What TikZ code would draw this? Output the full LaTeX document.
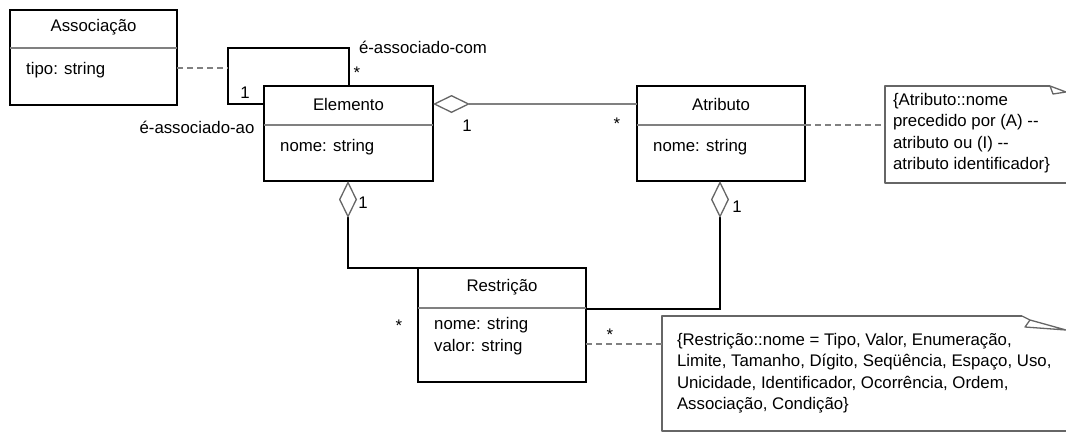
\documentclass[tikz,border=0pt]{standalone}
\usepackage{fontspec}
\setmainfont{Liberation Sans}
\usetikzlibrary{arrows.meta}

\definecolor{linegray}{gray}{0.5}
\definecolor{notegray}{gray}{0.4}

\begin{document}
\begin{tikzpicture}[x=1pt,y=-1pt,font=\fontsize{16.8}{21.5}\selectfont]
\useasboundingbox (0,0) rectangle (1066,432);

% class boxes
\begin{scope}[every node/.style={draw,line width=1.3pt,anchor=north west,
                                 inner sep=0pt,outer sep=0pt}]
    \node[minimum width=167pt,minimum height=95pt] (Assoc) at (10,10) {};
    \node[minimum width=169pt,minimum height=95pt] (Elem) at (264,86) {};
    \node[minimum width=168pt,minimum height=95pt] (Attr) at (637,86) {};
    \node[minimum width=168pt,minimum height=114pt] (Restr) at (418,268) {};
\end{scope}

% compartments
\begin{scope}[line width=1.8pt,linegray]
    \draw (Assoc.west |- 0,48) -- (Assoc.east |- 0,48);
    \draw (Elem.west |- 0,125) -- (Elem.east |- 0,125);
    \draw (Attr.west |- 0,125) -- (Attr.east |- 0,125);
    \draw (Restr.west |- 0,308) -- (Restr.east |- 0,308);
\end{scope}

% names and attributes
\node (AssocName) at (Assoc.north |- 0,27) {Associação};
\node (ElemName) at (Elem.north |- 0,104) {Elemento};
\node (AttrName) at (Attr.north |- 0,104) {Atributo};
\node (RestrName) at (Restr.north |- 0,287) {Restrição};
\begin{scope}[every node/.style={anchor=west,inner sep=0pt}]
    \node (AssocTipo) at (26,70) {tipo: string};
    \node (ElemNome) at (280,147) {nome: string};
    \node (AttrNome) at (653,147) {nome: string};
    \node[align=left] (RestrAttr) at (434,336) {nome: string\\valor: string};
\end{scope}

% notes
\begin{scope}[every node/.style={anchor=north west,inner sep=0pt,outer sep=0pt,
                                 align=left}]
    \node[minimum width=181pt,minimum height=97pt] (NoteAttr) at (885,86) {};
    \node[minimum width=404pt,minimum height=115pt] (NoteRestr) at (662,316) {};
    \node (NoteAttrText) at (893,93) {\{Atributo::nome\\precedido por (A) -{}-\\
        atributo ou (I) -{}-\\atributo identificador\}};
    \node (NoteRestrText) at (677,333) {\{Restrição::nome = Tipo, Valor, Enumeração,\\
        Limite, Tamanho, Dígito, Seqüência, Espaço, Uso,\\
        Unicidade, Identificador, Ocorrência, Ordem,\\Associação, Condição\}};
\end{scope}
\begin{scope}[line width=1.3pt,notegray,line join=round]
    \draw (1050,86) -- (NoteAttr.north west) -- (NoteAttr.south west)
          -- (NoteAttr.south east);
    \draw (1050,86) -- (1053,94) -- (1066,92) -- cycle;
    \draw (1022,316) -- (NoteRestr.north west) -- (NoteRestr.south west)
          -- (NoteRestr.south east);
    \draw (1022,316) -- (1030,320) -- (1025,327) -- (1066,330) -- (1030,320);
\end{scope}

% associations
\coordinate (loopA) at (228,48);
\coordinate (loopB) at (349,48);
\begin{scope}[line width=1.3pt,
              agg/.style={{Diamond[open,length=37pt,width=18pt,line width=1.3pt,
                          color=notegray]}-}]
    \draw (Elem.west |- 0,104) -| (loopA) -- (loopB) -- (loopB |- Elem.north);
    \draw[agg,linegray] (Elem.east |- 0,104) -- (Attr.west |- 0,104);
    \draw[agg] (Elem.south -| 348,0) |- (Restr.north west);
    \draw[agg] (Attr.south -| 720,0) |- (Restr.east |- 0,309);
\end{scope}

% note links
\begin{scope}[line width=1.8pt,linegray,dash pattern=on 6pt off 4pt]
    \draw (Assoc.east |- 0,68) -- (loopA |- 0,68);
    \draw (Attr.east |- 0,125) -- (NoteAttr.west |- 0,125);
    \draw (Restr.east |- 0,344) -- (NoteRestr.west |- 0,344);
\end{scope}

% role names and multiplicities
\node (RoleCom) at (423,47) {é-associado-com};
\node (RoleAo) at (197,127) {é-associado-ao};
\node (MultCom) at (357,73) {*};
\node (MultAo) at (245,93) {1};
\node (MultElemAgg) at (467,126) {1};
\node (MultAttr) at (617,124) {*};
\node (MultElemRestr) at (363,203) {1};
\node (MultAttrRestr) at (737,207) {1};
\node (MultRestrElem) at (399,326) {*};
\node (MultRestrNote) at (610,335) {*};
\end{tikzpicture}
\end{document}
